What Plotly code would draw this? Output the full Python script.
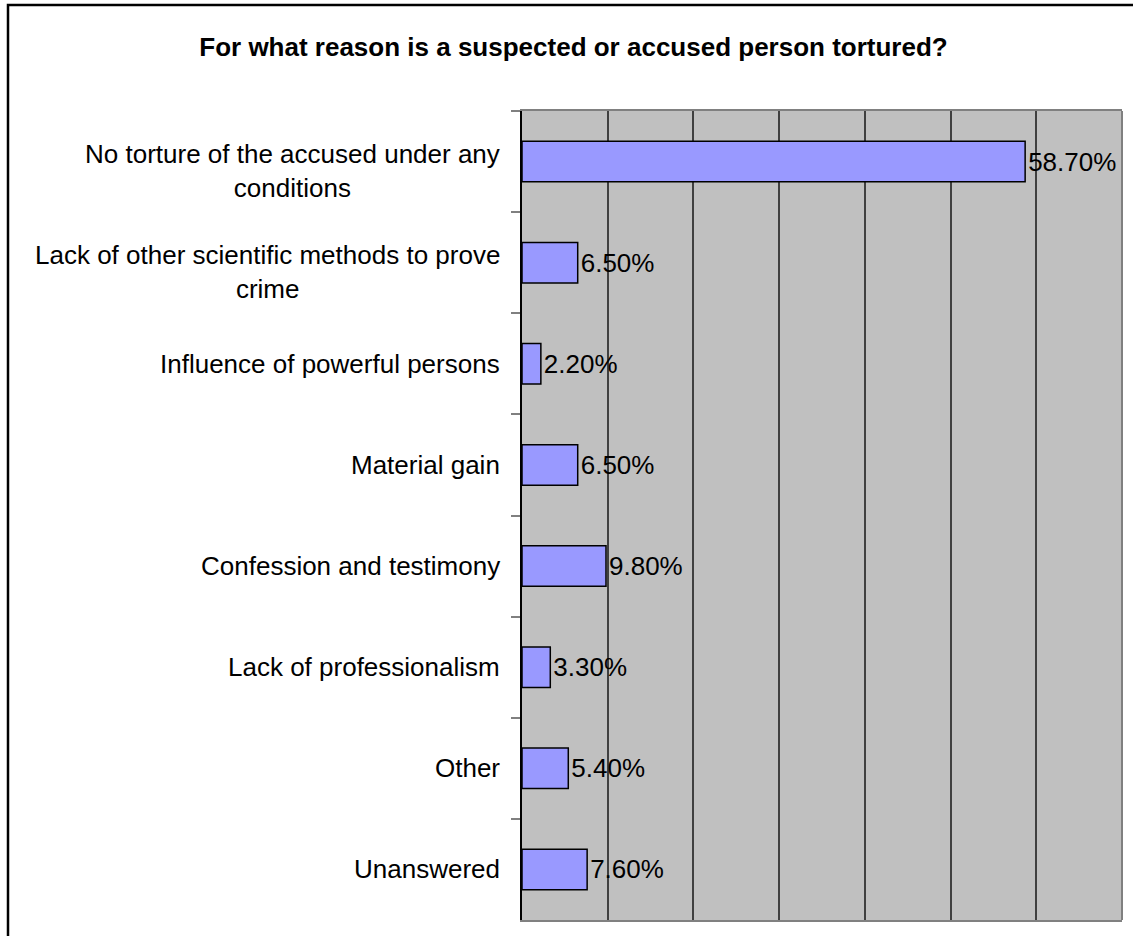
import plotly.graph_objects as go

categories = [
    "No torture of the accused under any<br>conditions",
    "Lack of other scientific methods to prove<br>crime",
    "Influence of powerful persons",
    "Material gain",
    "Confession and testimony",
    "Lack of professionalism",
    "Other",
    "Unanswered",
]
values = [58.7, 6.5, 2.2, 6.5, 9.8, 3.3, 5.4, 7.6]
value_labels = [f"{v:.2f}%" for v in values]
title_text = "For what reason is a suspected or accused person tortured?"

FONT = "Arial, 'Liberation Sans', sans-serif"
W, H = 1133, 936
L, R, T, B = 522, 11, 111, 16
pw, ph = W - L - R, H - T - B

fig = go.Figure(
    go.Bar(
        x=values,
        y=categories,
        orientation="h",
        marker=dict(color="#9999FF", line=dict(color="#000000", width=1.5)),
        text=value_labels,
        textposition="outside",
        textfont=dict(family=FONT, size=26, color="#000000"),
        constraintext="none",
        cliponaxis=False,
        hoverinfo="skip",
    )
)

for cat in categories:
    fig.add_annotation(
        x=0, xref="paper", y=cat, yref="y",
        text=cat, showarrow=False,
        xanchor="right", yanchor="middle", align="center",
        xshift=-20,
        yshift=-9 if "<br>" in cat else 0,
        font=dict(family=FONT, size=26, color="#000000"),
    )

def px_x(p):
    return (p - L) / pw

def px_y(p):
    return (H - B - p) / ph

# outer frame (left and top edges visible)
fig.add_shape(
    type="path", xref="paper", yref="paper",
    path=f"M {px_x(8)} {px_y(940)} L {px_x(8)} {px_y(5)} L {px_x(1140)} {px_y(5)}",
    line=dict(color="#000000", width=2.5),
)
# right border of plot area
fig.add_shape(
    type="line", xref="paper", yref="paper",
    x0=1, x1=1, y0=0, y1=1,
    line=dict(color="#808080", width=2),
)

fig.update_layout(
    width=W, height=H,
    margin=dict(l=L, r=R, t=T, b=B),
    paper_bgcolor="#FFFFFF",
    plot_bgcolor="#C0C0C0",
    bargap=0.6,
    showlegend=False,
    title=dict(
        text=f"<b>{title_text}</b>",
        x=573.5 / W, xref="container", xanchor="center",
        y=1 - 47 / H, yref="container", yanchor="middle",
        font=dict(family=FONT, size=26, color="#000000"),
    ),
    xaxis=dict(
        range=[0, 70], dtick=10, tick0=0,
        showticklabels=False, ticks="",
        showgrid=True, gridcolor="#404040", gridwidth=1.5,
        zeroline=False,
        showline=True, mirror=True, linecolor="#808080", linewidth=2,
    ),
    yaxis=dict(
        autorange="reversed",
        showticklabels=False,
        ticks="outside", tickson="boundaries", ticklen=9,
        tickcolor="#808080", tickwidth=1.5,
        showgrid=False, zeroline=False,
        showline=True, linecolor="#000000", linewidth=1.5,
    ),
)

fig.write_html("out.html")
